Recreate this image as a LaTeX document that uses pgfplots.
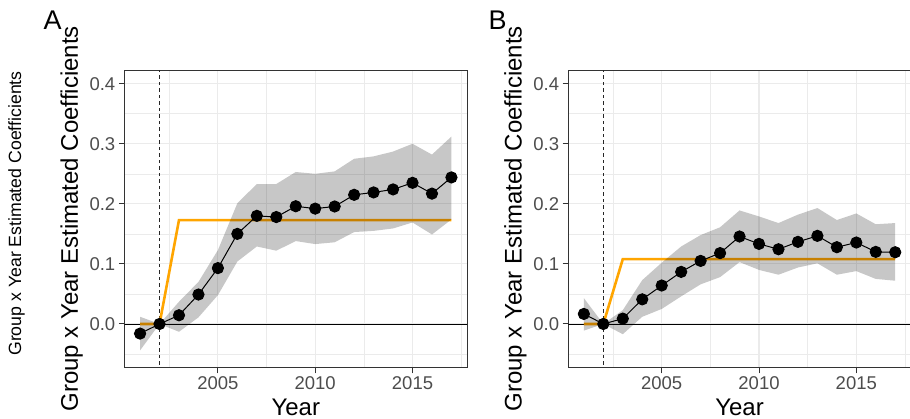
\documentclass[border=0pt]{standalone}
\usepackage{pgfplots}
\pgfplotsset{compat=1.18}
\usepackage{fontspec}
\setmainfont{Liberation Sans}
\definecolor{gridc}{HTML}{EBEBEB}
\definecolor{borderc}{HTML}{333333}
\definecolor{tickc}{HTML}{4D4D4D}
\definecolor{ggorange}{HTML}{FFA500}

\pgfplotsset{
  panel/.style={
    scale only axis, width=342.5pt, height=297.7pt,
    anchor=south west,
    xmin=2000.2, xmax=2017.8, ymin=-0.0728, ymax=0.4228,
    xtick={2005,2010,2015},
    ytick={0,0.1,0.2,0.3,0.4},
    minor xtick={2002.5,2007.5,2012.5,2017.5},
    minor ytick={-0.05,0.05,0.15,0.25,0.35},
    grid=both,
    major grid style={draw=gridc, line width=1.07pt},
    minor grid style={draw=gridc, line width=0.55pt},
    axis line style={draw=borderc, line width=1pt},
    tick align=outside, tick pos=left,
    major tick length=5.7pt, minor tick length=0pt,
    tick style={draw=borderc, line width=1pt},
    /pgf/number format/assume math mode=true,
    ticklabel style={font=\fontsize{18.5}{20}\selectfont, text=tickc},
    yticklabel style={/pgf/number format/fixed, /pgf/number format/precision=1, /pgf/number format/fixed zerofill},
    xticklabel style={/pgf/number format/1000 sep={}},
    label style={font=\fontsize{24}{28}\selectfont, text=black},
    ylabel={Group x Year Estimated Coefficients},
    xlabel={Year},
    ylabel style={at={(axis description cs:-0.136,0.5)}, anchor=base},
    xlabel style={at={(axis description cs:0.5,-0.159)}, anchor=base},
  },
  ribbon/.style={fill=black, fill opacity=0.22, draw=none},
  est/.style={black, line width=1pt, mark=*, mark size=5.6pt, mark options={fill=black, draw=black}},
  target/.style={ggorange, line width=2.6pt},
  zeroline/.style={black, line width=0.9pt},
  refline/.style={black!85, line width=0.9pt, dash pattern=on 3.5pt off 3pt},
}

\begin{document}
\begin{tikzpicture}
\path[use as bounding box] (0pt,-419pt) rectangle (910pt,0pt);

% Panel A
\begin{axis}[panel, at={(124.5pt,-367.7pt)}]
\addplot[zeroline] coordinates {(2000,0) (2018,0)};
\addplot[refline] coordinates {(2002,-0.1) (2002,0.5)};
\addplot[target] coordinates {
(2001,0) (2002,0) (2003,0.173) (2004,0.173) (2005,0.173) (2006,0.173) (2007,0.173) (2008,0.173) (2009,0.173)
(2010,0.173) (2011,0.173) (2012,0.173) (2013,0.173) (2014,0.173) (2015,0.173) (2016,0.173) (2017,0.173)};
\addplot[ribbon] coordinates {
(2001,0.012) (2002,0.0) (2003,0.037) (2004,0.070) (2005,0.123) (2006,0.201) (2007,0.233) (2008,0.233)
(2009,0.253) (2010,0.250) (2011,0.254) (2012,0.275) (2013,0.279) (2014,0.287) (2015,0.300) (2016,0.282) (2017,0.312)
(2017,0.174) (2016,0.149) (2015,0.169) (2014,0.159) (2013,0.155) (2012,0.153) (2011,0.136) (2010,0.133)
(2009,0.138) (2008,0.122) (2007,0.129) (2006,0.104) (2005,0.048) (2004,0.011) (2003,-0.013) (2002,0.0) (2001,-0.044)};
\addplot[est] coordinates {
(2001,-0.016) (2002,0) (2003,0.0145) (2004,0.049) (2005,0.093) (2006,0.150) (2007,0.180) (2008,0.178)
(2009,0.196) (2010,0.192) (2011,0.1956) (2012,0.215) (2013,0.219) (2014,0.224) (2015,0.235) (2016,0.217) (2017,0.244)};
\end{axis}

% Panel B
\begin{axis}[panel, at={(568.3pt,-367.7pt)}]
\addplot[zeroline] coordinates {(2000,0) (2018,0)};
\addplot[refline] coordinates {(2002,-0.1) (2002,0.5)};
\addplot[target] coordinates {
(2001,0) (2002,0) (2003,0.108) (2004,0.108) (2005,0.108) (2006,0.108) (2007,0.108) (2008,0.108) (2009,0.108)
(2010,0.108) (2011,0.108) (2012,0.108) (2013,0.108) (2014,0.108) (2015,0.108) (2016,0.108) (2017,0.108)};
\addplot[ribbon] coordinates {
(2001,0.043) (2002,0.0) (2003,0.023) (2004,0.073) (2005,0.102) (2006,0.129) (2007,0.148) (2008,0.161)
(2009,0.189) (2010,0.179) (2011,0.168) (2012,0.182) (2013,0.193) (2014,0.173) (2015,0.184) (2016,0.166) (2017,0.168)
(2017,0.072) (2016,0.075) (2015,0.088) (2014,0.082) (2013,0.101) (2012,0.094) (2011,0.082) (2010,0.090)
(2009,0.103) (2008,0.078) (2007,0.066) (2006,0.046) (2005,0.025) (2004,0.012) (2003,-0.017) (2002,0.0) (2001,-0.011)};
\addplot[est] coordinates {
(2001,0.0167) (2002,0) (2003,0.0089) (2004,0.041) (2005,0.064) (2006,0.0867) (2007,0.105) (2008,0.118)
(2009,0.1456) (2010,0.1333) (2011,0.1244) (2012,0.1367) (2013,0.1467) (2014,0.1278) (2015,0.1356) (2016,0.120) (2017,0.1194)};
\end{axis}

\node[anchor=base west, inner sep=0pt, font=\fontsize{27}{30}\selectfont] at (43.3pt,-29.3pt) {A};
\node[anchor=base west, inner sep=0pt, font=\fontsize{27}{30}\selectfont] at (488.3pt,-29.3pt) {B};
\node[rotate=90, anchor=base, inner sep=0pt, font=\fontsize{17.7}{20}\selectfont] at (21pt,-213.5pt) {Group x Year Estimated Coefficients};
\end{tikzpicture}
\end{document}
